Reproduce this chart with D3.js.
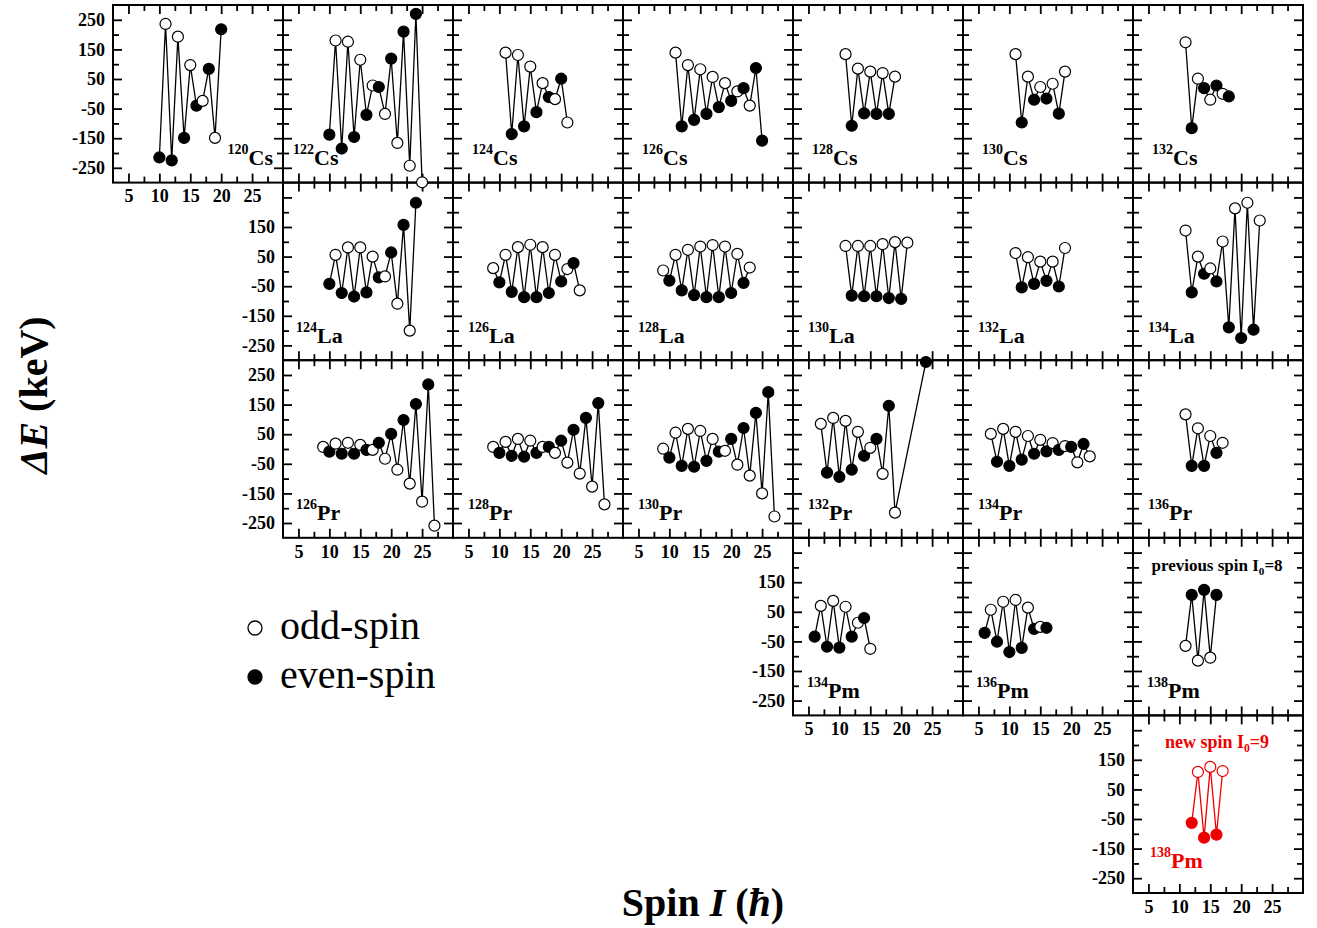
<!DOCTYPE html>
<html>
<head>
<meta charset="utf-8">
<script src="https://cdn.jsdelivr.net/npm/d3@7"></script>
<style>
  body { margin: 0; background: #fff; }
  svg text { font-family: "Liberation Serif", "Times New Roman", serif; }
</style>
</head>
<body>
<svg id="chart" width="1317" height="928"></svg>
<script>
// Tick values shared by every panel
const spinMajor = [5, 10, 15, 20, 25];
const spinMinor = [7.5, 12.5, 17.5, 22.5, 27.5];
const deMajor = [250, 150, 50, -50, -150, -250];
const deMinor = [200, 100, 0, -100, -200];

// Energy staggering ΔE(I) in keV, as [spin, ΔE] pairs
const cs120 = [[10,-215],[11,236],[12,-225],[13,193],[14,-149],[15,97],[16,-40],[17,-24],[18,84],[19,-149],[20,218]];
const cs122 = [[10,-138],[11,180],[12,-185],[13,176],[14,-146],[15,115],[16,-71],[17,28],[18,23],[19,-68],[20,119],[21,-166],[22,210],[23,-243],[24,270],[25,-299]];
const cs124 = [[11,139],[12,-136],[13,131],[14,-110],[15,92],[16,-62],[17,36],[18,-11],[19,-18],[20,51],[21,-97]];
const cs126 = [[11,139],[12,-110],[13,97],[14,-88],[15,83],[16,-68],[17,57],[18,-45],[19,36],[20,-24],[21,8],[22,19],[23,-40],[24,87],[25,-158]];
const cs128 = [[11,134],[12,-108],[13,85],[14,-66],[15,75],[16,-68],[17,70],[18,-68],[19,58]];
const cs130 = [[11,134],[12,-97],[13,58],[14,-20],[15,23],[16,-16],[17,34],[18,-67],[19,75]];
const cs132 = [[11,174],[12,-116],[13,51],[14,19],[15,-20],[16,28],[17,0],[18,-9]];

const la124 = [[10,-42],[11,56],[12,-73],[13,81],[14,-85],[15,81],[16,-71],[17,50],[18,-20],[19,-17],[20,64],[21,-109],[22,157],[23,-200],[24,232]];
const la126 = [[9,11],[10,-37],[11,56],[12,-69],[13,82],[14,-87],[15,90],[16,-87],[17,82],[18,-73],[19,56],[20,-34],[21,8],[22,28],[23,-64]];
const la128 = [[9,3],[10,-31],[11,56],[12,-64],[13,73],[14,-80],[15,84],[16,-87],[17,89],[18,-87],[19,84],[20,-73],[21,59],[22,-39],[23,13]];
const la130 = [[11,86],[12,-82],[13,86],[14,-84],[15,86],[16,-84],[17,92],[18,-90],[19,99],[20,-93],[21,97]];
const la132 = [[11,62],[12,-54],[13,48],[14,-42],[15,33],[16,-32],[17,33],[18,-51],[19,79]];
const la134 = [[11,138],[12,-71],[13,50],[14,-8],[15,10],[16,-34],[17,101],[18,-189],[19,213],[20,-225],[21,232],[22,-197],[23,172]];

const pr126 = [[9,7],[10,-9],[11,18],[12,-16],[13,21],[14,-16],[15,14],[16,-3],[17,-3],[18,21],[19,-33],[20,51],[21,-70],[22,98],[23,-117],[24,152],[25,-178],[26,218],[27,-259]];
const pr128 = [[9,7],[10,-13],[11,24],[12,-23],[13,34],[14,-26],[15,28],[16,-13],[17,7],[18,7],[19,-13],[20,28],[21,-46],[22,65],[23,-83],[24,105],[25,-127],[26,155],[27,-187]];
const pr130 = [[9,1],[10,-29],[11,55],[12,-57],[13,68],[14,-60],[15,61],[16,-40],[17,34],[18,-9],[19,-6],[20,34],[21,-53],[22,71],[23,-90],[24,122],[25,-150],[26,192],[27,-228]];
const pr132 = [[7,85],[8,-80],[9,105],[10,-94],[11,95],[12,-70],[13,58],[14,-23],[15,4],[16,34],[17,-84],[18,146],[19,-215],[24,294]];
const pr134 = [[7,51],[8,-43],[9,68],[10,-57],[11,58],[12,-36],[13,44],[14,-16],[15,31],[16,-8],[17,20],[18,-3],[19,10],[20,7],[21,-45],[22,17],[23,-25]];
const pr136 = [[11,117],[12,-57],[13,70],[14,-57],[15,44],[16,-13],[17,21]];

const pm134 = [[6,-34],[7,70],[8,-68],[9,87],[10,-71],[11,67],[12,-34],[13,13],[14,29],[15,-75]];
const pm136 = [[6,-21],[7,57],[8,-51],[9,84],[10,-86],[11,90],[12,-72],[13,64],[14,-8],[15,-1],[16,-4]];
const pm138Prev = [[11,-65],[12,107],[13,-115],[14,124],[15,-105],[16,107]];
const pm138New = [[12,-63],[13,109],[14,-113],[15,126],[16,-103],[17,112]];

// Points drawn with a filled marker although their spin is odd
const filledOddSpins = { cs126: [25] };

const yLabelsNoTop = [150, 50, -50, -150, -250];

const nuclei = [
  { key:"cs120", mass:120, el:"Cs", col:0, row:0, pts:cs120, labelRight:true, yLabels:deMajor, xLabels:true },
  { key:"cs122", mass:122, el:"Cs", col:1, row:0, pts:cs122, dx:10 },
  { key:"cs124", mass:124, el:"Cs", col:2, row:0, pts:cs124, dx:19 },
  { key:"cs126", mass:126, el:"Cs", col:3, row:0, pts:cs126, dx:19 },
  { key:"cs128", mass:128, el:"Cs", col:4, row:0, pts:cs128, dx:19 },
  { key:"cs130", mass:130, el:"Cs", col:5, row:0, pts:cs130, dx:19 },
  { key:"cs132", mass:132, el:"Cs", col:6, row:0, pts:cs132, dx:19 },
  { key:"la124", mass:124, el:"La", col:1, row:1, pts:la124, dx:13, yLabels:yLabelsNoTop },
  { key:"la126", mass:126, el:"La", col:2, row:1, pts:la126 },
  { key:"la128", mass:128, el:"La", col:3, row:1, pts:la128 },
  { key:"la130", mass:130, el:"La", col:4, row:1, pts:la130 },
  { key:"la132", mass:132, el:"La", col:5, row:1, pts:la132 },
  { key:"la134", mass:134, el:"La", col:6, row:1, pts:la134 },
  { key:"pr126", mass:126, el:"Pr", col:1, row:2, pts:pr126, dx:13, yLabels:deMajor, xLabels:true },
  { key:"pr128", mass:128, el:"Pr", col:2, row:2, pts:pr128, xLabels:true },
  { key:"pr130", mass:130, el:"Pr", col:3, row:2, pts:pr130, xLabels:true },
  { key:"pr132", mass:132, el:"Pr", col:4, row:2, pts:pr132 },
  { key:"pr134", mass:134, el:"Pr", col:5, row:2, pts:pr134 },
  { key:"pr136", mass:136, el:"Pr", col:6, row:2, pts:pr136 },
  { key:"pm134", mass:134, el:"Pm", col:4, row:3, pts:pm134, dx:14, yLabels:yLabelsNoTop, xLabels:true },
  { key:"pm136", mass:136, el:"Pm", col:5, row:3, pts:pm136, dx:13, xLabels:true },
  { key:"pm138Prev", mass:138, el:"Pm", col:6, row:3, pts:pm138Prev, dx:14,
    note:{ pre:"previous spin ", sub:"0", post:"=8", size:17 } },
  { key:"pm138New", mass:138, el:"Pm", col:6, row:4, pts:pm138New, dx:17, labelDy:-7, color:"#ee0000",
    yLabels:yLabelsNoTop, xLabels:true, note:{ pre:"new spin ", sub:"0", post:"=9", size:18 } }
];

const gridLeft = 113, gridTop = 5, cellW = 170, cellH = 177.6;
const spinDomain = [2.5, 30], deDomain = [-300, 300];
const FONT = '"Liberation Serif", "Times New Roman", serif';
const plainNumber = d => String(d);

const svg = d3.select("#chart");
svg.append("rect").attr("width", 1317).attr("height", 928).attr("fill", "#fff");
const gFrames = svg.append("g");
const gData = svg.append("g");

function styleAxis(sel, showText) {
  sel.select(".domain").remove();
  sel.selectAll(".tick line").attr("stroke", "#000").attr("stroke-width", 1.8);
  sel.selectAll(".tick text")
    .attr("font-family", FONT).attr("font-size", 18).attr("font-weight", "bold").attr("fill", "#000")
    .style("display", showText ? null : "none");
}

nuclei.forEach(n => {
  const x0 = gridLeft + n.col * cellW, y0 = gridTop + n.row * cellH;
  const x = d3.scaleLinear().domain(spinDomain).range([x0, x0 + cellW]);
  const y = d3.scaleLinear().domain(deDomain).range([y0 + cellH, y0]);
  const color = n.color || "#000";

  const g = gFrames.append("g");
  const MAJ = 9, MIN = 6;

  // bottom & top spin axes, ticks pointing into the panel
  g.append("g").attr("transform", `translate(0,${y0 + cellH})`)
    .call(d3.axisBottom(x).tickValues(spinMajor).tickSizeInner(-MAJ).tickSizeOuter(0).tickPadding(7).tickFormat(plainNumber))
    .call(s => styleAxis(s, !!n.xLabels));
  g.append("g").attr("transform", `translate(0,${y0 + cellH})`)
    .call(d3.axisBottom(x).tickValues(spinMinor).tickSizeInner(-MIN).tickSizeOuter(0))
    .call(s => styleAxis(s, false));
  g.append("g").attr("transform", `translate(0,${y0})`)
    .call(d3.axisTop(x).tickValues(spinMajor).tickSizeInner(-MAJ).tickSizeOuter(0))
    .call(s => styleAxis(s, false));
  g.append("g").attr("transform", `translate(0,${y0})`)
    .call(d3.axisTop(x).tickValues(spinMinor).tickSizeInner(-MIN).tickSizeOuter(0))
    .call(s => styleAxis(s, false));

  // left & right ΔE axes
  const left = g.append("g").attr("transform", `translate(${x0},0)`)
    .call(d3.axisLeft(y).tickValues(deMajor).tickSizeInner(-MAJ).tickSizeOuter(0).tickPadding(8).tickFormat(plainNumber))
    .call(s => styleAxis(s, false));
  if (n.yLabels) {
    left.selectAll(".tick text").style("display", d => n.yLabels.includes(d) ? null : "none");
  }
  g.append("g").attr("transform", `translate(${x0},0)`)
    .call(d3.axisLeft(y).tickValues(deMinor).tickSizeInner(-MIN).tickSizeOuter(0))
    .call(s => styleAxis(s, false));
  g.append("g").attr("transform", `translate(${x0 + cellW},0)`)
    .call(d3.axisRight(y).tickValues(deMajor).tickSizeInner(-MAJ).tickSizeOuter(0))
    .call(s => styleAxis(s, false));
  g.append("g").attr("transform", `translate(${x0 + cellW},0)`)
    .call(d3.axisRight(y).tickValues(deMinor).tickSizeInner(-MIN).tickSizeOuter(0))
    .call(s => styleAxis(s, false));

  g.append("rect")
    .attr("x", x0).attr("y", y0).attr("width", cellW).attr("height", cellH)
    .attr("fill", "none").attr("stroke", "#000").attr("stroke-width", 2);

  // nucleus label with superscript mass number
  const lbl = g.append("text")
    .attr("font-family", FONT).attr("font-weight", "bold").attr("fill", color)
    .attr("x", n.labelRight ? x0 + cellW - 10 : x0 + (n.dx || 15))
    .attr("y", y0 + 160 + (n.labelDy || 0))
    .attr("text-anchor", n.labelRight ? "end" : "start");
  lbl.append("tspan").attr("font-size", 14).attr("dy", -11).text(n.mass);
  lbl.append("tspan").attr("font-size", 22).attr("dy", 11).text(n.el);

  if (n.note) {
    const t = g.append("text")
      .attr("font-family", FONT).attr("font-weight", "bold").attr("font-size", n.note.size)
      .attr("fill", color).attr("text-anchor", "middle")
      .attr("x", x0 + 84).attr("y", y0 + 33);
    t.append("tspan").text(n.note.pre + "I");
    t.append("tspan").attr("font-size", n.note.size * 0.65).attr("dy", 4).text(n.note.sub);
    t.append("tspan").attr("dy", -4).text(n.note.post);
  }

  // staggering curve and markers
  const gd = gData.append("g");
  gd.append("path")
    .datum(n.pts)
    .attr("d", d3.line().x(d => x(d[0])).y(d => y(d[1])))
    .attr("fill", "none").attr("stroke", color).attr("stroke-width", 1.3);
  const extraFilled = filledOddSpins[n.key] || [];
  gd.selectAll("circle").data(n.pts).join("circle")
    .attr("cx", d => x(d[0])).attr("cy", d => y(d[1])).attr("r", 5.5)
    .attr("stroke", color).attr("stroke-width", 1.2)
    .attr("fill", d => (d[0] % 2 === 0 || extraFilled.includes(d[0])) ? color : "#fff");
});

// legend
const legend = svg.append("g");
[["odd-spin", "#fff", 628], ["even-spin", "#000", 677]].forEach(([label, fill, cy]) => {
  legend.append("circle").attr("cx", 255).attr("cy", cy).attr("r", 7)
    .attr("fill", fill).attr("stroke", "#000").attr("stroke-width", 1.3);
  legend.append("text").attr("x", 280).attr("y", cy + 11)
    .attr("font-family", FONT).attr("font-size", 40).attr("fill", "#000").text(label);
});

// axis titles
const yTitle = svg.append("text")
  .attr("transform", "translate(47,395) rotate(-90)")
  .attr("text-anchor", "middle").attr("font-family", FONT)
  .attr("font-size", 40).attr("font-weight", "bold");
yTitle.append("tspan").attr("font-style", "italic").text("ΔE");
yTitle.append("tspan").text(" (keV)");

const xTitle = svg.append("text")
  .attr("x", 703).attr("y", 916)
  .attr("text-anchor", "middle").attr("font-family", FONT)
  .attr("font-size", 40).attr("font-weight", "bold");
xTitle.append("tspan").text("Spin ");
xTitle.append("tspan").attr("font-style", "italic").text("I");
xTitle.append("tspan").text(" (");
xTitle.append("tspan").attr("font-style", "italic").text("ħ");
xTitle.append("tspan").text(")");
</script>
</body>
</html>
